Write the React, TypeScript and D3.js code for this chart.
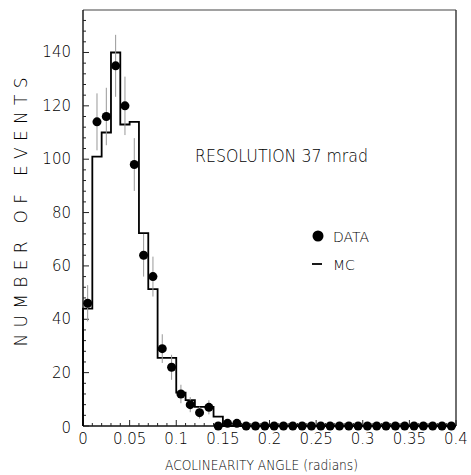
import React from "react";
import * as d3 from "d3";

const binEdges: number[] = d3.range(0, 0.4001, 0.01).map((v) => +v.toFixed(2));
const dataCounts: number[] = [
  46, 114, 116, 135, 120, 98, 64, 56, 29, 22,
  12, 8, 5, 7, 0, 1, 1, 0, 0, 0,
  0, 0, 0, 0, 0, 0, 0, 0, 0, 0,
  0, 0, 0, 0, 0, 0, 0, 0, 0, 0,
];
const mcCounts: number[] = [
  44, 101, 110, 140, 113, 114, 72.3, 51.3, 25.5, 25.5,
  12.5, 9.7, 7.2, 7.2, 3.5, 0, 0, 0, 0, 0,
  0, 0, 0, 0, 0, 0, 0, 0, 0, 0,
  0, 0, 0, 0, 0, 0, 0, 0, 0, 0,
];
const xTickLabels: string[] = ["0", "0.05", "0.1", "0.15", "0.2", "0.25", "0.3", "0.35", "0.4"];
const xTickValues: number[] = [0, 0.05, 0.1, 0.15, 0.2, 0.25, 0.3, 0.35, 0.4];
const yTickValues: number[] = [0, 20, 40, 60, 80, 100, 120, 140];

const FONT = "'DejaVu Sans', 'Liberation Sans', sans-serif";

export default function App() {
  const left = 83, right = 456, top = 10, bottom = 426;
  const x = d3.scaleLinear().domain([0, 0.4]).range([left, right]);
  const y = d3.scaleLinear().domain([0, 140]).range([bottom, bottom - 140 * 2.668]);

  const pts: [number, number][] = [];
  pts.push([x(0), y(0)]);
  mcCounts.forEach((c, i) => {
    pts.push([x(binEdges[i]), y(c)]);
    pts.push([x(binEdges[i + 1]), y(c)]);
  });
  const mcPath = d3.line()(pts) || "";

  const minorY = d3.range(0, 156, 4);
  const minorX = d3.range(0, 41, 1).map((i) => i * 0.01);

  return (
    <svg
      width={471}
      height={475}
      style={{ position: "absolute", left: 0, top: 0, background: "#fff" }}
      fontFamily={FONT}
      fontWeight={200}
    >
      <rect x={0} y={0} width={471} height={475} fill="#fff" />
      <line x1={left} y1={top} x2={right} y2={top} stroke="#444" strokeWidth={1.2} />
      <line x1={right} y1={top} x2={right} y2={bottom} stroke="#333" strokeWidth={1.4} />
      <line x1={left} y1={top} x2={left} y2={bottom} stroke="#111" strokeWidth={1.4} />
      <line x1={left} y1={bottom} x2={right} y2={bottom} stroke="#111" strokeWidth={1.4} />
      {minorY.map((v) => (
        <line key={"ym" + v} x1={left} x2={left + (v % 20 === 0 ? 6 : 3)} y1={y(v)} y2={y(v)} stroke="#222" strokeWidth={1} />
      ))}
      {yTickValues.map((v) => (
        <text key={"yl" + v} x={71} y={y(v) + 5 + (v === 0 ? 2 : 0)} textAnchor="end" fontSize={15} fill="#000">
          {v}
        </text>
      ))}
      {minorX.map((v, i) => (
        <line key={"xm" + i} x1={x(v)} x2={x(v)} y1={bottom} y2={bottom - (i % 5 === 0 ? 6 : 3)} stroke="#222" strokeWidth={1} />
      ))}
      {xTickValues.map((v, i) => (
        <text key={"xl" + i} x={x(v)} y={444} textAnchor="middle" fontSize={15} fill="#000">
          {xTickLabels[i]}
        </text>
      ))}
      <path d={mcPath} fill="none" stroke="#000" strokeWidth={1.8} />
      {dataCounts.map((c, i) =>
        c > 0 ? (
          <line
            key={"e" + i}
            x1={x((binEdges[i] + binEdges[i + 1]) / 2)}
            x2={x((binEdges[i] + binEdges[i + 1]) / 2)}
            y1={y(c + Math.sqrt(c))}
            y2={y(Math.max(0, c - Math.sqrt(c)))}
            stroke="#999"
            strokeWidth={1}
          />
        ) : null
      )}
      {dataCounts.map((c, i) => (
        <circle key={"d" + i} cx={x((binEdges[i] + binEdges[i + 1]) / 2)} cy={y(c)} r={4.5} fill="#000" />
      ))}
      <text x={195} y={162} fontSize={17} fill="#000" textLength={173} lengthAdjust="spacingAndGlyphs">
        RESOLUTION 37 mrad
      </text>
      <circle cx={318} cy={236} r={5.5} fill="#000" />
      <text x={333} y={242} fontSize={14} fill="#000">DATA</text>
      <line x1={312} x2={322} y1={264} y2={264} stroke="#000" strokeWidth={1.8} />
      <text x={333} y={270} fontSize={14} fill="#000">MC</text>
      <text
        transform={`translate(27, 212) rotate(-90)`}
        textAnchor="middle"
        fontSize={17}
        fill="#000"
        textLength={269}
        lengthAdjust="spacing"
      >
        NUMBER OF EVENTS
      </text>
      <text x={165} y={470} fontSize={14} fill="#000" textLength={193} lengthAdjust="spacingAndGlyphs">
        ACOLINEARITY ANGLE (radians)
      </text>
    </svg>
  );
}
